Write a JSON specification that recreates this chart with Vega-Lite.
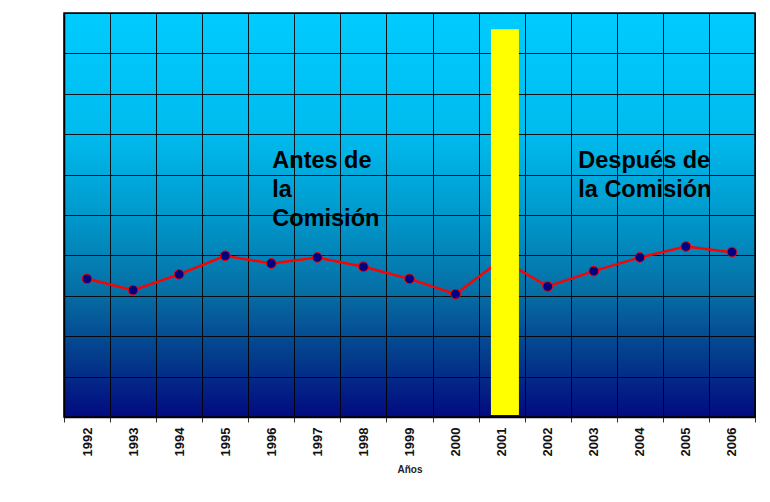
{
  "$schema": "https://vega.github.io/schema/vega-lite/v6.json",
  "width": 691,
  "height": 404,
  "autosize": {"type": "none"},
  "padding": {"left": 64, "top": 13, "right": 15, "bottom": 85},
  "background": "white",
  "config": {
    "view": {
      "stroke": "black",
      "strokeWidth": 1.5,
      "fill": {
        "gradient": "linear",
        "x1": 0, "y1": 0, "x2": 0, "y2": 1,
        "stops": [
          {"offset": 0, "color": "#00CCFF"},
          {"offset": 0.3, "color": "#00BBEE"},
          {"offset": 0.5, "color": "#0099CC"},
          {"offset": 0.7, "color": "#066CA2"},
          {"offset": 0.85, "color": "#043C8C"},
          {"offset": 1, "color": "#020A80"}
        ]
      }
    },
    "font": "Liberation Sans"
  },
  "datasets": {
    "series": [
      {"year": 1992, "v": 3.42},
      {"year": 1993, "v": 3.14},
      {"year": 1994, "v": 3.53},
      {"year": 1995, "v": 3.99},
      {"year": 1996, "v": 3.80},
      {"year": 1997, "v": 3.95},
      {"year": 1998, "v": 3.72},
      {"year": 1999, "v": 3.42},
      {"year": 2000, "v": 3.04},
      {"year": 2001, "v": 3.90},
      {"year": 2002, "v": 3.23},
      {"year": 2003, "v": 3.61},
      {"year": 2004, "v": 3.95},
      {"year": 2005, "v": 4.22},
      {"year": 2006, "v": 4.08}
    ],
    "marker": [
      {"year": 2001, "lo": 0.05, "hi": 9.6}
    ],
    "antes": [
      {"year": 1996, "v": 6.16, "label": "Antes de"},
      {"year": 1996, "v": 5.45, "label": "la"},
      {"year": 1996, "v": 4.74, "label": "Comisión"}
    ],
    "despues": [
      {"year": 2003, "v": 6.17, "label": "Después de"},
      {"year": 2003, "v": 5.45, "label": "la Comisión"}
    ]
  },
  "encoding": {
    "x": {
      "field": "year",
      "type": "ordinal",
      "scale": {"paddingInner": 0, "paddingOuter": 0},
      "axis": {
        "title": "Años",
        "titleFont": "Liberation Sans",
        "titleFontWeight": "bold",
        "titleFontSize": 10,
        "titleColor": "#222222",
        "titlePadding": 9,
        "labelAngle": -90,
        "labelFont": "Liberation Sans",
        "labelFontWeight": "bold",
        "labelFontSize": 13,
        "labelColor": "#111111",
        "labelPadding": 5,
        "tickBand": "extent",
        "tickColor": "#333333",
        "tickSize": 5,
        "grid": true,
        "gridColor": "black",
        "gridOpacity": 0.9,
        "domainColor": "black",
        "domainWidth": 1.5
      }
    }
  },
  "layer": [
    {
      "data": {"name": "series"},
      "mark": {"type": "line", "color": "#FF0000", "strokeWidth": 2.5},
      "encoding": {
        "y": {
          "field": "v",
          "type": "quantitative",
          "scale": {"domain": [0, 10], "nice": false},
          "axis": {
            "title": null,
            "labels": false,
            "ticks": false,
            "grid": true,
            "gridColor": "black",
            "gridOpacity": 0.9,
            "values": [0, 1, 2, 3, 4, 5, 6, 7, 8, 9, 10],
            "domainColor": "black",
            "domainWidth": 1.5
          }
        }
      }
    },
    {
      "data": {"name": "series"},
      "mark": {"type": "point", "filled": true, "fill": "#000080", "stroke": "#FF0000", "strokeWidth": 1, "size": 95, "opacity": 1},
      "encoding": {
        "y": {"field": "v", "type": "quantitative"}
      }
    },
    {
      "data": {"name": "marker"},
      "mark": {"type": "bar", "color": "#FFFF00", "size": 28, "xOffset": 3.3},
      "encoding": {
        "y": {"field": "lo", "type": "quantitative"},
        "y2": {"field": "hi"}
      }
    },
    {
      "data": {"name": "antes"},
      "mark": {"type": "text", "align": "left", "baseline": "alphabetic", "font": "Liberation Sans", "fontWeight": "bold", "fontSize": 23.5, "color": "black", "xOffset": 1},
      "encoding": {
        "y": {"field": "v", "type": "quantitative"},
        "text": {"field": "label"}
      }
    },
    {
      "data": {"name": "despues"},
      "mark": {"type": "text", "align": "left", "baseline": "alphabetic", "font": "Liberation Sans", "fontWeight": "bold", "fontSize": 23.5, "color": "black", "xOffset": -15.5},
      "encoding": {
        "y": {"field": "v", "type": "quantitative"},
        "text": {"field": "label"}
      }
    }
  ]
}
